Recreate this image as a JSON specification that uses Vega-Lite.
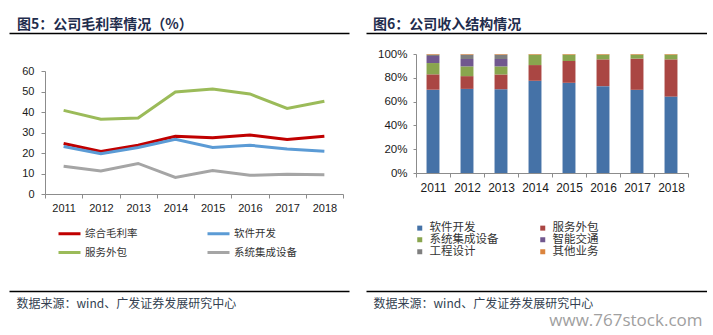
{
  "$schema": "https://vega.github.io/schema/vega-lite/v6.json",
  "background": "white",
  "padding": {"left": 9, "top": 18, "right": 0, "bottom": 6},
  "bounds": "full",
  "spacing": 17,
  "config": {
    "view": {"stroke": null},
    "font": "Liberation Sans",
    "axis": {"grid": false, "domainColor": "#8c8c8c", "tickColor": "#8c8c8c", "labelColor": "#1a1a1a", "labelFont": "Liberation Sans", "labelFontSize": 11},
    "legend": {"labelFont": "Noto Sans CJK SC", "labelColor": "#333333"}
  },
  "datasets": {
    "one": [{"v": 0}],
    "margin": [
      {"year": "2011", "series": "综合毛利率", "value": 24.6},
      {"year": "2012", "series": "综合毛利率", "value": 20.7},
      {"year": "2013", "series": "综合毛利率", "value": 23.8},
      {"year": "2014", "series": "综合毛利率", "value": 28.2},
      {"year": "2015", "series": "综合毛利率", "value": 27.4},
      {"year": "2016", "series": "综合毛利率", "value": 28.8},
      {"year": "2017", "series": "综合毛利率", "value": 26.6},
      {"year": "2018", "series": "综合毛利率", "value": 28.2},
      {"year": "2011", "series": "软件开发", "value": 23.2},
      {"year": "2012", "series": "软件开发", "value": 19.6},
      {"year": "2013", "series": "软件开发", "value": 22.7},
      {"year": "2014", "series": "软件开发", "value": 26.7},
      {"year": "2015", "series": "软件开发", "value": 22.7},
      {"year": "2016", "series": "软件开发", "value": 23.8},
      {"year": "2017", "series": "软件开发", "value": 21.9},
      {"year": "2018", "series": "软件开发", "value": 20.9},
      {"year": "2011", "series": "服务外包", "value": 40.8},
      {"year": "2012", "series": "服务外包", "value": 36.5},
      {"year": "2013", "series": "服务外包", "value": 37.1},
      {"year": "2014", "series": "服务外包", "value": 49.8},
      {"year": "2015", "series": "服务外包", "value": 51.2},
      {"year": "2016", "series": "服务外包", "value": 48.8},
      {"year": "2017", "series": "服务外包", "value": 41.7},
      {"year": "2018", "series": "服务外包", "value": 45.2},
      {"year": "2011", "series": "系统集成设备", "value": 13.5},
      {"year": "2012", "series": "系统集成设备", "value": 11.2},
      {"year": "2013", "series": "系统集成设备", "value": 14.9},
      {"year": "2014", "series": "系统集成设备", "value": 8.1},
      {"year": "2015", "series": "系统集成设备", "value": 11.5},
      {"year": "2016", "series": "系统集成设备", "value": 9.1},
      {"year": "2017", "series": "系统集成设备", "value": 9.6},
      {"year": "2018", "series": "系统集成设备", "value": 9.4}
    ],
    "mix": [
      {"year": "2011", "seg": "软件开发", "k": 1, "share": 70.0},
      {"year": "2011", "seg": "服务外包", "k": 2, "share": 12.9},
      {"year": "2011", "seg": "系统集成设备", "k": 3, "share": 9.5},
      {"year": "2011", "seg": "智能交通", "k": 4, "share": 5.9},
      {"year": "2011", "seg": "工程设计", "k": 5, "share": 1.2},
      {"year": "2011", "seg": "其他业务", "k": 6, "share": 0.5},
      {"year": "2012", "seg": "软件开发", "k": 1, "share": 70.7},
      {"year": "2012", "seg": "服务外包", "k": 2, "share": 10.7},
      {"year": "2012", "seg": "系统集成设备", "k": 3, "share": 8.2},
      {"year": "2012", "seg": "智能交通", "k": 4, "share": 6.2},
      {"year": "2012", "seg": "工程设计", "k": 5, "share": 3.7},
      {"year": "2012", "seg": "其他业务", "k": 6, "share": 0.5},
      {"year": "2013", "seg": "软件开发", "k": 1, "share": 70.4},
      {"year": "2013", "seg": "服务外包", "k": 2, "share": 12.4},
      {"year": "2013", "seg": "系统集成设备", "k": 3, "share": 6.8},
      {"year": "2013", "seg": "智能交通", "k": 4, "share": 6.2},
      {"year": "2013", "seg": "工程设计", "k": 5, "share": 3.7},
      {"year": "2013", "seg": "其他业务", "k": 6, "share": 0.5},
      {"year": "2014", "seg": "软件开发", "k": 1, "share": 77.5},
      {"year": "2014", "seg": "服务外包", "k": 2, "share": 13.2},
      {"year": "2014", "seg": "系统集成设备", "k": 3, "share": 8.8},
      {"year": "2014", "seg": "其他业务", "k": 6, "share": 0.5},
      {"year": "2015", "seg": "软件开发", "k": 1, "share": 75.8},
      {"year": "2015", "seg": "服务外包", "k": 2, "share": 18.3},
      {"year": "2015", "seg": "系统集成设备", "k": 3, "share": 5.4},
      {"year": "2015", "seg": "其他业务", "k": 6, "share": 0.5},
      {"year": "2016", "seg": "软件开发", "k": 1, "share": 73.0},
      {"year": "2016", "seg": "服务外包", "k": 2, "share": 22.5},
      {"year": "2016", "seg": "系统集成设备", "k": 3, "share": 4.0},
      {"year": "2016", "seg": "其他业务", "k": 6, "share": 0.5},
      {"year": "2017", "seg": "软件开发", "k": 1, "share": 69.9},
      {"year": "2017", "seg": "服务外包", "k": 2, "share": 26.2},
      {"year": "2017", "seg": "系统集成设备", "k": 3, "share": 3.4},
      {"year": "2017", "seg": "其他业务", "k": 6, "share": 0.5},
      {"year": "2018", "seg": "软件开发", "k": 1, "share": 64.2},
      {"year": "2018", "seg": "服务外包", "k": 2, "share": 31.3},
      {"year": "2018", "seg": "系统集成设备", "k": 3, "share": 4.0},
      {"year": "2018", "seg": "其他业务", "k": 6, "share": 0.5}
    ]
  },
  "resolve": {"scale": {"x": "independent", "y": "independent", "color": "independent"}, "legend": {"color": "independent"}, "axis": {"x": "independent", "y": "independent"}},
  "hconcat": [
    {
      "width": 340,
      "height": 258,
      "title": {"text": "图5：公司毛利率情况（%）", "anchor": "start", "frame": "group", "dx": 8, "offset": 1, "font": "Noto Sans CJK SC", "fontSize": 14, "fontWeight": "bold", "color": "#1F2D4D"},
      "resolve": {"scale": {"y": "independent"}, "axis": {"y": "independent"}},
      "layer": [
        {
          "data": {"name": "margin"},
          "mark": {"type": "line", "strokeWidth": 3},
          "encoding": {
            "x": {"field": "year", "type": "ordinal", "bandPosition": 0.5,
                  "scale": {"type": "band", "paddingInner": 0, "paddingOuter": 0, "range": [36, 334]},
                  "axis": {"offset": -97, "labelAngle": 0, "tickBand": "extent", "tickSize": 4, "labelPadding": 4,
                           "title": "数据来源：wind、广发证券发展研究中心", "titleX": 7, "titleY": 109, "titleAlign": "left", "titleBaseline": "middle", "titleAngle": 0,
                           "titleFont": "Noto Sans CJK SC", "titleFontSize": 12, "titleFontWeight": "normal", "titleColor": "#333F50"}},
            "y": {"field": "value", "type": "quantitative",
                  "scale": {"domain": [0, 60], "nice": false, "range": [161, 38]},
                  "axis": {"offset": -36, "title": null, "values": [0, 10, 20, 30, 40, 50, 60], "tickSize": 4, "labelPadding": 7}},
            "color": {"field": "series", "type": "nominal",
                      "scale": {"domain": ["综合毛利率", "软件开发", "服务外包", "系统集成设备"], "range": ["#C00000", "#5B9BD5", "#9BBB59", "#A5A5A5"]},
                      "legend": {"title": null, "orient": "none", "legendX": 48, "legendY": 188, "direction": "horizontal", "columns": 2, "columnPadding": 63, "rowPadding": -3.6, "symbolType": "stroke", "symbolSize": 484, "symbolStrokeWidth": 3, "labelFontSize": 10.5, "labelOffset": 3}}
          }
        },
        {
          "data": {"name": "one"},
          "mark": {"type": "point", "opacity": 0},
          "encoding": {
            "y": {"field": "v", "type": "quantitative", "scale": {"domain": [0, 1]},
                  "axis": {"orient": "right", "grid": true, "values": [0, 1], "gridColor": "#000000", "gridWidth": 1.5, "domain": false, "ticks": false, "labels": false, "title": null}}
          }
        }
      ]
    },
    {
      "width": 341,
      "height": 258,
      "title": {"text": "图6：公司收入结构情况", "anchor": "start", "frame": "group", "dx": 7, "offset": 1, "font": "Noto Sans CJK SC", "fontSize": 14, "fontWeight": "bold", "color": "#1F2D4D"},
      "resolve": {"scale": {"y": "independent"}, "axis": {"y": "independent"}},
      "layer": [
        {
          "data": {"name": "mix"},
          "mark": {"type": "bar", "width": {"band": 0.38}},
          "encoding": {
            "x": {"field": "year", "type": "ordinal",
                  "scale": {"type": "band", "paddingInner": 0, "paddingOuter": 0, "range": [50, 322]},
                  "axis": {"offset": -118, "labelAngle": 0, "tickBand": "extent", "tickSize": 4, "labelPadding": 5, "labelFontSize": 12,
                           "title": "数据来源：wind、广发证券发展研究中心", "titleX": 7, "titleY": 130, "titleAlign": "left", "titleBaseline": "middle", "titleAngle": 0,
                           "titleFont": "Noto Sans CJK SC", "titleFontSize": 12, "titleFontWeight": "normal", "titleColor": "#333F50"}},
            "y": {"field": "share", "type": "quantitative", "stack": "normalize",
                  "scale": {"range": [140, 21]},
                  "axis": {"offset": -50, "title": null, "format": ".0%", "values": [0, 0.2, 0.4, 0.6, 0.8, 1], "tickSize": 3, "labelPadding": 6, "labelFontSize": 11.5}},
            "color": {"field": "seg", "type": "nominal",
                      "scale": {"domain": ["软件开发", "服务外包", "系统集成设备", "智能交通", "工程设计", "其他业务"], "range": ["#4572A7", "#AA4643", "#89A54E", "#71588F", "#7F7F7F", "#DB843D"]},
                      "legend": {"title": null, "orient": "none", "legendX": 48, "legendY": 189, "direction": "horizontal", "columns": 2, "columnPadding": 38, "rowPadding": -1.8, "symbolType": "square", "symbolSize": 25, "symbolStrokeWidth": 0, "labelFontSize": 11.5, "labelOffset": 4}},
            "order": {"field": "k", "type": "quantitative", "sort": "ascending"}
          }
        },
        {
          "data": {"name": "one"},
          "mark": {"type": "point", "opacity": 0},
          "encoding": {
            "y": {"field": "v", "type": "quantitative", "scale": {"domain": [0, 1]},
                  "axis": {"orient": "right", "grid": true, "values": [0, 1], "gridColor": "#000000", "gridWidth": 1.5, "domain": false, "ticks": false, "labels": false,
                           "title": "www.767stock.com", "titleAngle": 0, "titleX": -5, "titleY": 292.5, "titleAlign": "right", "titleBaseline": "alphabetic",
                           "titleFont": "Open Sans", "titleFontSize": 17, "titleFontWeight": "normal", "titleColor": "#A0A0A0"}}
          }
        }
      ]
    }
  ]
}
